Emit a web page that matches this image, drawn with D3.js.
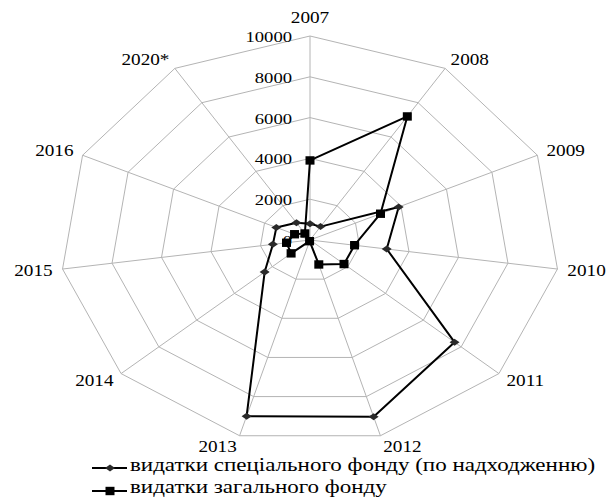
<!DOCTYPE html>
<html>
<head>
<meta charset="utf-8">
<script src="https://cdn.jsdelivr.net/npm/d3@7"></script>
<style>
  html, body { margin: 0; padding: 0; background: #fff; }
  svg { display: block; }
</style>
</head>
<body>
<svg id="chart" width="611" height="499"></svg>
<script>
// Budget expenditure by year (radar)
const categories = ["2007", "2008", "2009", "2010", "2011", "2012", "2013", "2014", "2015", "2016", "2020*"];
const specialFund = [800, 780, 3900, 3100, 7650, 9030, 9000, 2400, 1500, 1480, 1000];
const generalFund = [3900, 7200, 3100, 1800, 1800, 1250, 60, 1000, 950, 680, 380];
const tickValues = [0, 2000, 4000, 6000, 8000, 10000];
const seriesNames = ["видатки спеціального фонду (по надходженню)", "видатки загального фонду"];

const FONT = "Liberation Serif";

const svg = d3.select("#chart");
const W = 611, H = 499;
svg.append("rect").attr("width", W).attr("height", H).attr("fill", "#fff");

const cx = 310, cy = 240, Rx = 250, Ry = 204;
const stretch = 1.2; // horizontal text stretch, same as the plot's x/y radius ratio

const n = categories.length;
const angle = d3.scaleLinear().domain([0, n]).range([0, 2 * Math.PI]);
const radius = d3.scaleLinear().domain([0, 10000]).range([0, 1]);

const px = (i, v) => cx + Rx * radius(v) * Math.sin(angle(i));
const py = (i, v) => cy - Ry * radius(v) * Math.cos(angle(i));

// grid rings
const grid = svg.append("g").attr("fill", "none").attr("stroke", "#b4b4b4").attr("stroke-width", 1);
tickValues.filter(t => t > 0).forEach(t => {
  const pts = d3.range(n).map(i => [px(i, t), py(i, t)]);
  grid.append("path").attr("d", d3.line().curve(d3.curveLinearClosed)(pts));
});
// spokes
d3.range(n).forEach(i => {
  grid.append("line")
    .attr("x1", cx).attr("y1", cy)
    .attr("x2", px(i, 10000)).attr("y2", py(i, 10000));
});

function stretchedText(g, x, y, str, size, anchor, baseline) {
  return g.append("text")
    .attr("transform", `translate(${x},${y}) scale(${stretch},1)`)
    .attr("text-anchor", anchor)
    .attr("dominant-baseline", baseline || "central")
    .attr("font-family", FONT)
    .attr("font-size", size)
    .attr("fill", "#000")
    .text(str);
}

// axis tick labels along the top spoke
const ticks = svg.append("g");
tickValues.forEach(t => {
  stretchedText(ticks, cx - 18, py(0, t) + 1, t, 15.5, "end");
});

// category labels
const labels = svg.append("g");
categories.forEach((c, i) => {
  const s = Math.sin(angle(i)), co = Math.cos(angle(i));
  const vx = px(i, 10000), vy = py(i, 10000);
  const anchor = s > 0.15 ? "start" : (s < -0.15 ? "end" : "middle");
  let lx = vx + s * 10;
  let ly = vy - co * 11;
  if (co > 0.95) ly = vy - 18;
  stretchedText(labels, lx, ly, c, 16, anchor);
});

// series
const lineGen = d3.line().curve(d3.curveLinearClosed);
function drawSeries(values, marker) {
  const pts = values.map((v, i) => [px(i, v), py(i, v)]);
  const g = svg.append("g");
  g.append("path").attr("d", lineGen(pts))
    .attr("fill", "none").attr("stroke", "#000").attr("stroke-width", 2)
    .attr("stroke-linejoin", "round");
  g.selectAll("path.m").data(pts).enter().append("path")
    .attr("class", "m")
    .attr("transform", d => `translate(${d[0]},${d[1]})`)
    .attr("d", marker.d)
    .attr("fill", marker.fill);
}
const diamond = { d: "M-5,0L0,-3.5L5,0L0,3.5Z", fill: "#2a2a2a" };
const square = { d: "M-4.5,-4.2H4.5V4.2H-4.5Z", fill: "#000" };

drawSeries(specialFund, diamond);
drawSeries(generalFund, square);

// legend
const legend = svg.append("g");
const legendRows = [[diamond, 468, 471], [square, 491, 493]];
const legendTexts = legendRows.map(([m, y, base], k) => {
  legend.append("line").attr("x1", 92).attr("x2", 127).attr("y1", y).attr("y2", y)
    .attr("stroke", "#000").attr("stroke-width", 2);
  legend.append("path").attr("transform", `translate(110,${y})`).attr("d", m.d).attr("fill", m.fill);
  return stretchedText(legend, 130, base, seriesNames[k], 17, "start", "alphabetic");
});
// size the legend font so the first entry spans to the right side of the chart
const measured = legendTexts[0].node().getComputedTextLength() * stretch;
const legendSize = Math.max(14, Math.min(22, 17 * 465 / measured));
legendTexts.forEach(t => t.attr("font-size", legendSize));
</script>
</body>
</html>
